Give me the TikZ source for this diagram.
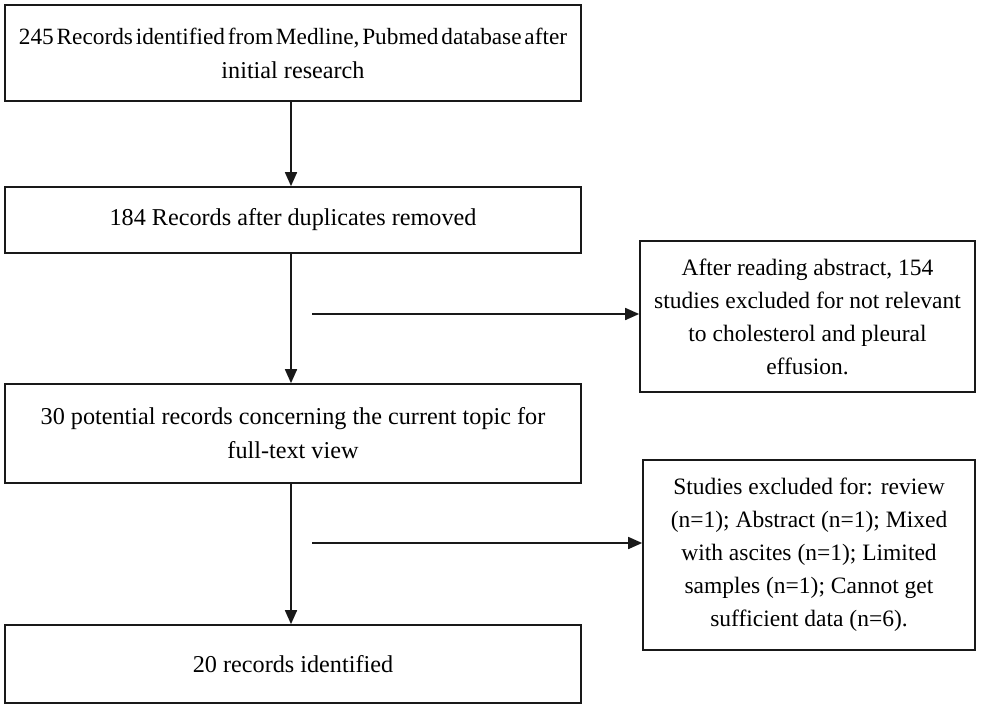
\documentclass[tikz,border=0pt]{standalone}
\usepackage{fontspec}
\setmainfont{Liberation Serif}
\usetikzlibrary{arrows.meta}
\begin{document}
\begin{tikzpicture}[x=1pt,y=-1pt,
  box/.style={draw=black!90, line width=1.7pt, align=center, inner sep=0pt,
    font=\fontsize{23.5}{33}\selectfont},
  mainbox/.style={box, minimum width=576pt, font=\fontsize{24.2}{34}\selectfont},
  arr/.style={draw=black!90, line width=1.7pt, -{Triangle[length=14pt,width=12pt]}}]
\useasboundingbox (0,0) rectangle (981,707);
\node[mainbox, minimum height=96pt] (b1) at (293,53)
  {{\fontsize{23.3}{34}\selectfont\spaceskip=0.12em\relax 245 Records identified from Medline, Pubmed database after}\\initial research};
\node[mainbox, minimum height=66pt] (b2) at (293,220)
  {184 Records after duplicates removed};
\node[mainbox, minimum height=99pt] (b3) at (293,433.5)
  {30 potential records concerning the current topic for\\full-text view};
\node[mainbox, minimum height=78pt] (b4) at (293,664)
  {20 records identified};
\node[box, minimum width=335pt, minimum height=151pt] (s1) at (807.5,316.5)
  {After reading abstract, 154\\studies excluded for not relevant\\to cholesterol and pleural\\effusion.};
\node[box, minimum width=332pt, minimum height=190pt] (s2) at (809,555)
  {Studies excluded for: review\\(n=1); Abstract (n=1); Mixed\\with ascites (n=1); Limited\\samples (n=1); Cannot get\\sufficient data (n=6).};
\draw[arr] ([xshift=-2pt]b1.south) -- ([xshift=-2pt]b2.north);
\draw[arr] ([xshift=-2pt]b2.south) -- ([xshift=-2pt]b3.north);
\draw[arr] ([xshift=-2pt]b3.south) -- ([xshift=-2pt]b4.north);
\coordinate (h1) at (312,314);
\coordinate (h2) at (312,543);
\draw[arr] (h1) -- (h1 -| s1.west);
\draw[arr] (h2) -- (h2 -| s2.west);
\end{tikzpicture}
\end{document}
